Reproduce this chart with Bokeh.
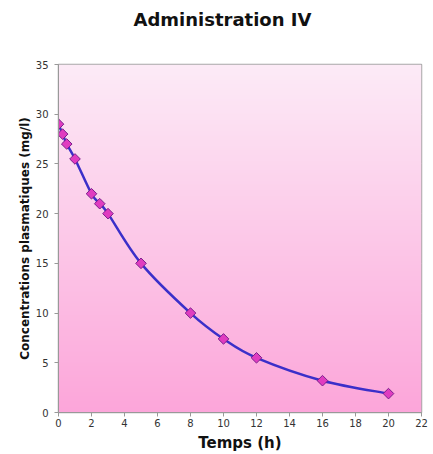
import numpy as np
from bokeh.plotting import figure
from bokeh.models import Range1d, FixedTicker, Title
from bokeh.embed import file_html
from bokeh.resources import INLINE

# Plasma concentration after IV administration
temps_h = [0, 0.25, 0.5, 1, 2, 2.5, 3, 5, 8, 10, 12, 16, 20]
concentration = [29, 28, 27, 25.5, 22, 21, 20, 15, 10, 7.4, 5.5, 3.2, 1.9]
x_ticks = list(range(0, 23, 2))
y_ticks = list(range(0, 36, 5))

p = figure(width=433, height=454, output_backend="svg", toolbar_location=None,
           title=None,
           x_range=Range1d(0, 22), y_range=Range1d(0, 35),
           min_border_left=58, min_border_right=12, min_border_top=64,
           min_border_bottom=42)
p.background_fill_color = "white"
p.border_fill_color = "white"

# blank spacer between the heading and the plot frame, then the heading
p.add_layout(Title(text=" ", text_font_size="30px", standoff=0), "above")
p.add_layout(Title(text="Administration IV", align="left", offset=75,
                   text_font="DejaVu Sans", text_font_style="bold",
                   text_font_size="18px", text_color="#111111",
                   standoff=0), "above")

# vertical pink gradient filling the plot area
n = 256
top = np.array([253, 235, 247], dtype=float)
bottom = np.array([252, 166, 218], dtype=float)
t = np.linspace(0, 1, n)[:, None]
rgb = (bottom * (1 - t) + top * t).astype(np.uint32)
img = np.empty((n, 1), dtype=np.uint32)
view = img.view(dtype=np.uint8).reshape((n, 1, 4))
view[:, 0, 0] = rgb[:, 0]
view[:, 0, 1] = rgb[:, 1]
view[:, 0, 2] = rgb[:, 2]
view[:, 0, 3] = 255
p.image_rgba(image=[img], x=0, y=0, dw=22, dh=35)

# smooth curve through the measurements (cubic Bezier segments)
xs = np.array(temps_h, dtype=float)
ys = np.array(concentration, dtype=float)
xp = np.concatenate([[xs[0]], xs, [xs[-1]]])
yp = np.concatenate([[ys[0]], ys, [ys[-1]]])
x0, y0, x1, y1, cx0, cy0, cx1, cy1 = [], [], [], [], [], [], [], []
for i in range(1, len(xp) - 2):
    x0.append(xp[i]); y0.append(yp[i])
    x1.append(xp[i + 1]); y1.append(yp[i + 1])
    cx0.append(xp[i] + (xp[i + 1] - xp[i - 1]) / 6)
    cy0.append(yp[i] + (yp[i + 1] - yp[i - 1]) / 6)
    cx1.append(xp[i + 1] - (xp[i + 2] - xp[i]) / 6)
    cy1.append(yp[i + 1] - (yp[i + 2] - yp[i]) / 6)
p.bezier(x0=x0, y0=y0, x1=x1, y1=y1, cx0=cx0, cy0=cy0, cx1=cx1, cy1=cy1,
         line_color="#3b2fc9", line_width=2.5)

# square markers turned 45 degrees give an even diamond
p.scatter(temps_h, concentration, marker="square", angle=np.pi / 4, size=7.5,
          fill_color="#e03cc0", line_color="#7a1e8c", line_width=1)

p.outline_line_color = "#a8a8a8"
p.outline_line_width = 1.5
p.xgrid.grid_line_color = None
p.ygrid.grid_line_color = "#e8c8dc"
p.ygrid.grid_line_alpha = 0.6

p.xaxis.ticker = FixedTicker(ticks=x_ticks)
p.yaxis.ticker = FixedTicker(ticks=y_ticks)
for ax in (p.xaxis, p.yaxis):
    ax.axis_line_color = "#999999"
    ax.major_tick_line_color = "#999999"
    ax.major_tick_out = 4
    ax.major_tick_in = 0
    ax.minor_tick_line_color = None
    ax.major_label_text_font = "DejaVu Sans"
    ax.major_label_text_font_size = "10px"
    ax.major_label_text_color = "#333333"
    ax.axis_label_text_font = "DejaVu Sans"
    ax.axis_label_text_font_style = "bold"
    ax.axis_label_text_color = "#111111"

p.xaxis.axis_label = "Temps (h)"
p.xaxis.axis_label_text_font_size = "15px"
p.xaxis.axis_label_standoff = 4
p.xaxis.major_label_standoff = 2
p.yaxis.axis_label = "Concentrations plasmatiques (mg/l)"
p.yaxis.axis_label_text_font_size = "12px"
p.yaxis.axis_label_standoff = 1
p.yaxis.major_label_standoff = 6

open("out.html", "w").write(file_html(p, INLINE))
